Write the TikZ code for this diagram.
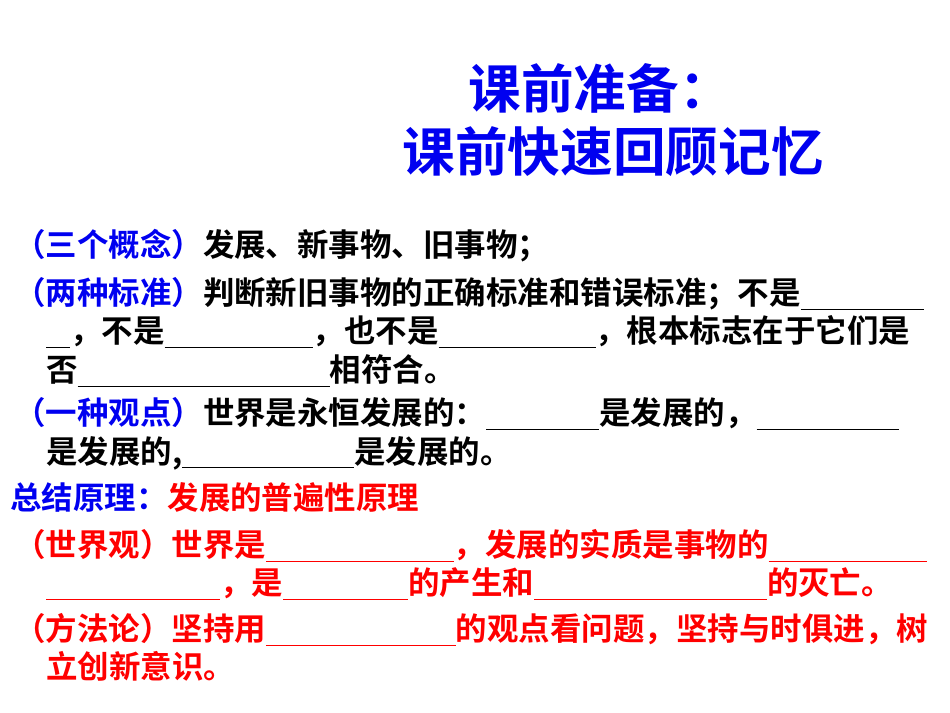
\documentclass[tikz,border=0pt]{standalone}
\usepackage{fontspec}
\setmainfont{Noto Sans CJK SC Bold}
\definecolor{tb}{RGB}{0,0,240}
\definecolor{tr}{RGB}{255,0,0}
\newcommand{\bl}[1]{\rule[-4pt]{#1\dimexpr 0.75pt\relax}{0.8pt}}
\begin{document}
\begin{tikzpicture}[x=0.75pt,y=-0.75pt,
  ln/.style={anchor=west,inner sep=0pt,font=\fontsize{23.6pt}{28pt}\selectfont},
  ttl/.style={anchor=center,inner sep=0pt,text=tb,font=\fontsize{39.5pt}{46pt}\selectfont}]
\useasboundingbox (0,0) rectangle (950,713);
\node[ttl] (t1) at (600,88) {课前准备：};
\node[ttl] (t2) at (613,152) {课前快速回顾记忆};
\node[ln] (l1) at (14,246) {\textcolor{tb}{（三个概念）}发展、新事物、旧事物；};
\node[ln] (l2) at (14,294) {\textcolor{tb}{（两种标准）}判断新旧事物的正确标准和错误标准；不是\bl{123}};
\node[ln] (l3) at (46,332) {\bl{24}，不是\bl{148}，也不是\bl{157}，根本标志在于它们是};
\node[ln] (l4) at (46,371) {否\bl{252}相符合。};
\node[ln] (l5) at (14,414) {\textcolor{tb}{（一种观点）}世界是永恒发展的：\bl{113}是发展的，\bl{142}};
\node[ln] (l6) at (46,453) {是发展的,\bl{172}是发展的。};
\node[ln] (l7) at (10,498) {\textcolor{tb}{总结原理：}\textcolor{tr}{发展的普遍性原理}};
\node[ln,text=tr] (l8) at (14,546) {（世界观）世界是\bl{188}，发展的实质是事物的\bl{158}};
\node[ln,text=tr] (l9) at (46,584) {\bl{174}，是\bl{125}的产生和\bl{233}的灭亡。};
\node[ln,text=tr] (l10) at (14,630) {（方法论）坚持用\bl{190}的观点看问题，坚持与时俱进，树};
\node[ln,text=tr] (l11) at (46,666) {立创新意识。};
\end{tikzpicture}
\end{document}
